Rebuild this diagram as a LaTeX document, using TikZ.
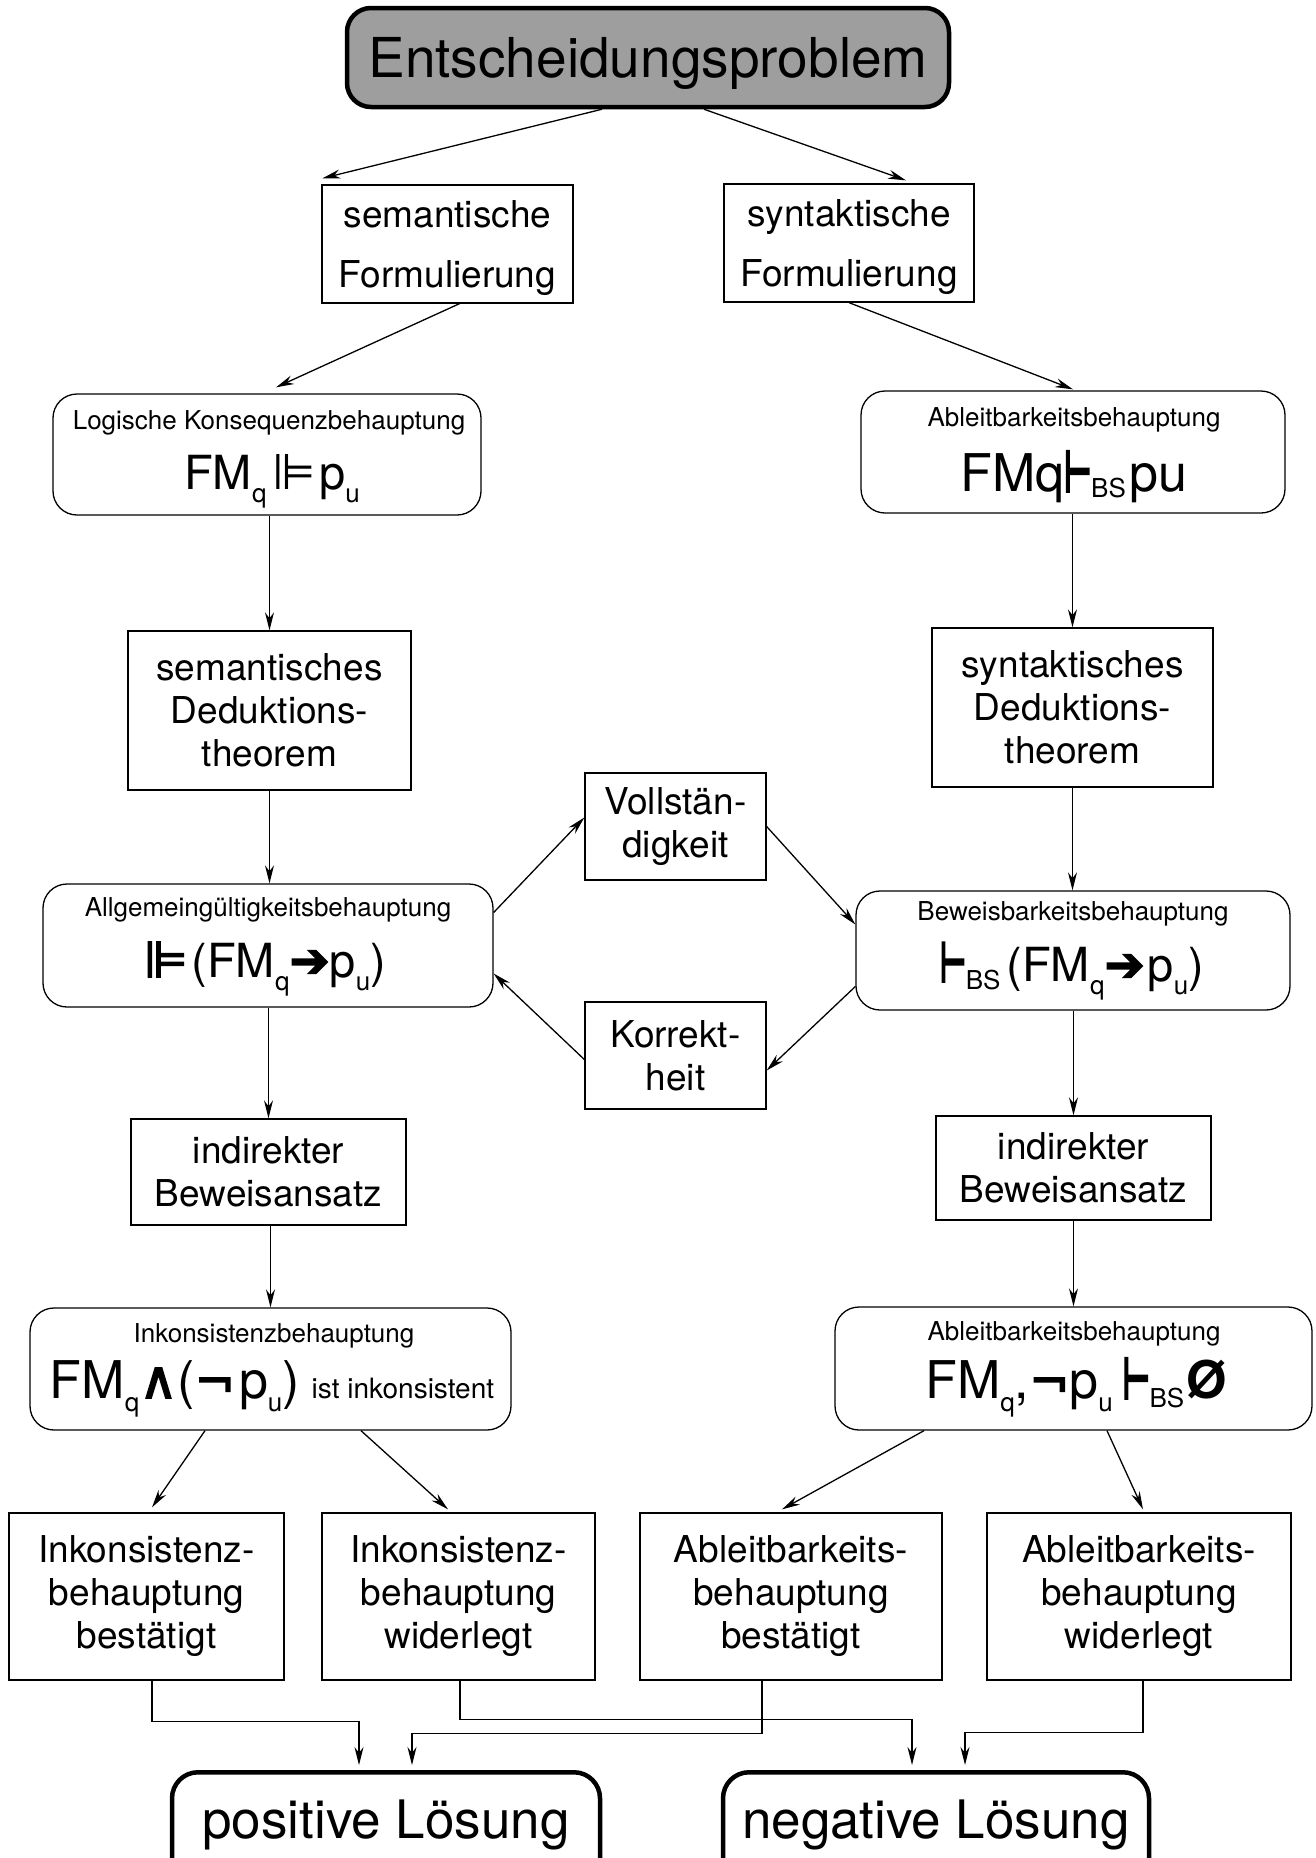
\documentclass[tikz,border=0pt]{standalone}
\usepackage{fontspec}
\setmainfont{TeX Gyre Heros}
\newfontfamily\symf{DejaVu Sans}
\newfontfamily\symb[FakeBold=3]{DejaVu Sans}
\newfontfamily\symbb[FakeBold=7]{DejaVu Sans}
\usetikzlibrary{arrows.meta,calc}
\newcommand\lw[2][-13pt]{\raisebox{#1}{\fontsize{26}{26}\selectfont #2}}
\newcommand\sym[2][48]{{\symf\fontsize{#1}{#1}\selectfont #2}}
\newcommand\bsym[2][48]{{\symb\fontsize{#1}{#1}\selectfont #2}}
\newcommand\tstile[1][52]{\scalebox{0.55}[1]{\symbb\fontsize{#1}{#1}\selectfont ⊢}}
\begin{document}
\begin{tikzpicture}[x=1pt,y=-1pt,
  box/.style={draw,line width=1.3pt,align=center,font=\fontsize{37}{43}\selectfont,inner sep=0pt},
  rbox/.style={draw,line width=1.3pt,rounded corners=24pt,inner sep=0pt},
  heavy/.style={draw,line width=4.5pt,rounded corners=24pt,inner sep=0pt},
  arr/.style={line width=1.3pt,-{Stealth[length=18pt,width=9pt]}},
  ttl/.style={anchor=base,font=\fontsize{26}{26}\selectfont,inner sep=0pt},
  fml/.style={anchor=base,font=\fontsize{47}{47}\selectfont,inner sep=0pt}]
\fill[white] (0,0) rectangle (1316,1858);
\clip (0,0) rectangle (1316,1858);

% top
\node[heavy,fill=black!38,minimum width=602pt,minimum height=99pt,text height=40pt,text depth=0pt,font=\fontsize{55}{60}\selectfont] (top) at (648,57.5) {Entscheidungsproblem};

\node[box,minimum width=251pt,minimum height=118pt,text depth=0pt,font=\fontsize{37}{60}\selectfont] (semF) at (447.5,244) {semantische\\Formulierung};
\node[box,minimum width=250pt,minimum height=118pt,text depth=0pt,font=\fontsize{37}{60}\selectfont] (synF) at (849,243) {syntaktische\\Formulierung};

% formula boxes
\node[rbox,minimum width=428pt,minimum height=121pt] (logK) at (267,454.5) {};
\node[ttl] (logKt) at (269,429) {Logische Konsequenzbehauptung};
\node[fml] (logKf) at (272,489) {FM\lw{q}\hspace{6pt}\sym[50]{⊫}\hspace{3pt}p\lw{u}};

\node[rbox,minimum width=424pt,minimum height=122pt] (abl1) at (1073,452) {};
\node[ttl] (abl1t) at (1074,426) {Ableitbarkeitsbehauptung};
\node[fml] (abl1f) at (1074,491) {\fontsize{52}{52}\selectfont FMq\tstile[56]\lw[-6pt]{BS}\hspace{4pt}pu};

\node[box,minimum width=283pt,minimum height=159pt] (semD) at (269.5,710.5) {semantisches\\Deduktions-\\theorem};
\node[box,minimum width=281pt,minimum height=159pt] (synD) at (1072.5,707.5) {syntaktisches\\Deduktions-\\theorem};

\node[rbox,minimum width=450pt,minimum height=123pt] (allg) at (268,945.5) {};
\node[ttl] (allgt) at (268,916) {Allgemeingültigkeitsbehauptung};
\node[fml] (allgf) at (265,977) {\bsym[50]{⊫}\hspace{4pt}(FM\lw{q}\bsym[48]{➔}p\lw{u})};

\node[rbox,minimum width=434pt,minimum height=119pt] (bew) at (1073,950.5) {};
\node[ttl] (bewt) at (1073,920) {Beweisbarkeitsbehauptung};
\node[fml] (bewf) at (1072,981) {\tstile[54]\lw[-8pt]{BS}\hspace{6pt}(FM\lw{q}\bsym[48]{➔}\hspace{3pt}p\lw{u})};

\node[box,minimum width=181pt,minimum height=107pt] (voll) at (675.5,826.5) {Vollstän-\\digkeit};
\node[box,minimum width=181pt,minimum height=107pt] (korr) at (675.5,1055.5) {Korrekt-\\heit};

\node[box,minimum width=275pt,minimum height=106pt] (indL) at (268.5,1172) {indirekter\\Beweisansatz};
\node[box,minimum width=275pt,minimum height=104pt] (indR) at (1073.5,1168) {indirekter\\Beweisansatz};

\node[rbox,minimum width=481pt,minimum height=122pt] (inkB) at (270.5,1369) {};
\node[ttl] (inkBt) at (274,1342) {Inkonsistenzbehauptung};
\node[fml] (inkBf) at (272,1398) {\fontsize{52}{52}\selectfont FM\lw{q}\bsym[52]{∧}(\bsym[48]{¬}\hspace{4pt}p\lw{u})\hspace{12pt}{\fontsize{28}{28}\selectfont ist inkonsistent}};

\node[rbox,minimum width=477pt,minimum height=123pt] (abl2) at (1073.5,1368.5) {};
\node[ttl] (abl2t) at (1074,1340) {Ableitbarkeitsbehauptung};
\node[fml] (abl2f) at (1076,1398) {\fontsize{52}{52}\selectfont FM\lw{q},\bsym[48]{¬}p\lw{u}\hspace{10pt}\tstile[56]\lw[-9pt]{BS}\hspace{2pt}{\bfseries Ø}};

% bottom boxes
\node[box,minimum width=275pt,minimum height=167pt] (b1) at (146.5,1596.5) {Inkonsistenz-\\behauptung\\bestätigt};
\node[box,minimum width=273pt,minimum height=167pt] (b2) at (458.5,1596.5) {Inkonsistenz-\\behauptung\\widerlegt};
\node[box,minimum width=302pt,minimum height=167pt] (b3) at (791,1596.5) {Ableitbarkeits-\\behauptung\\bestätigt};
\node[box,minimum width=304pt,minimum height=167pt] (b4) at (1139,1596.5) {Ableitbarkeits-\\behauptung\\widerlegt};

\node[heavy,rounded corners=26pt,minimum width=428pt,inner ysep=10pt,text height=56pt,text depth=60pt,font=\fontsize{53}{60}\selectfont,anchor=north] (pos) at (386,1770) {positive Lösung};
\node[heavy,rounded corners=26pt,minimum width=426pt,inner ysep=10pt,text height=56pt,text depth=60pt,font=\fontsize{53}{60}\selectfont,anchor=north] (neg) at (936,1770) {negative Lösung};

% connectors
\draw[arr] ([xshift=-46pt]top.south) -- ([xshift=1pt,yshift=6pt]semF.north west);
\draw[arr] ([xshift=56pt]top.south) -- ([xshift=57pt,yshift=3pt]synF.north);
\draw[arr] ([xshift=12pt]semF.south) -- ([xshift=9pt,yshift=6pt]logK.north);
\draw[arr] (synF.south) -- ([yshift=1pt]abl1.north);

\draw[arr] (semD.north |- logK.south) -- (semD.north);
\draw[arr] (semD.south) -- (semD.south |- allg.north);
\draw[arr] (indL.north |- allg.south) -- (indL.north);
\draw[arr] (inkB.north |- indL.south) -- (inkB.north);

\draw[arr] (synD.north |- abl1.south) -- (synD.north);
\draw[arr] (synD.south) -- (synD.south |- bew.north);
\draw[arr] (indR.north |- bew.south) -- (indR.north);
\draw[arr] (abl2.north |- indR.south) -- (abl2.north);

\draw[arr] ([yshift=33pt]allg.east) -- ([yshift=9pt]voll.west);
\draw[arr] (voll.east) -- ([yshift=26pt]bew.west);
\draw[arr] ([yshift=-36pt]bew.west) -- ([yshift=-15pt]korr.east);
\draw[arr] ([yshift=-4pt]korr.west) -- ([yshift=-28pt]allg.east);

\draw[arr] ([xshift=-65.5pt]inkB.south) -- ([xshift=5.5pt,yshift=5pt]b1.north);
\draw[arr] ([xshift=90.5pt]inkB.south) -- ([xshift=-10.5pt,yshift=3pt]b2.north);
\draw[arr] ([xshift=-149.5pt]abl2.south) -- ([xshift=-9pt,yshift=3pt]b3.north);
\draw[arr] ([xshift=33.5pt]abl2.south) -- ([xshift=4pt,yshift=3pt]b4.north);

\draw[arr] ([xshift=5.5pt]b1.south) -- ++(0,41) -| ([xshift=-27pt,yshift=5pt]pos.north);
\draw[arr] ([xshift=1.5pt]b2.south) -- ++(0,39) -| ([xshift=-24pt,yshift=5pt]neg.north);
\draw[arr] ([xshift=-29pt]b3.south) -- ++(0,53) -| ([xshift=26pt,yshift=5pt]pos.north);
\draw[arr] ([xshift=4pt]b4.south) -- ++(0,52) -| ([xshift=29pt,yshift=5pt]neg.north);
\end{tikzpicture}
\end{document}
